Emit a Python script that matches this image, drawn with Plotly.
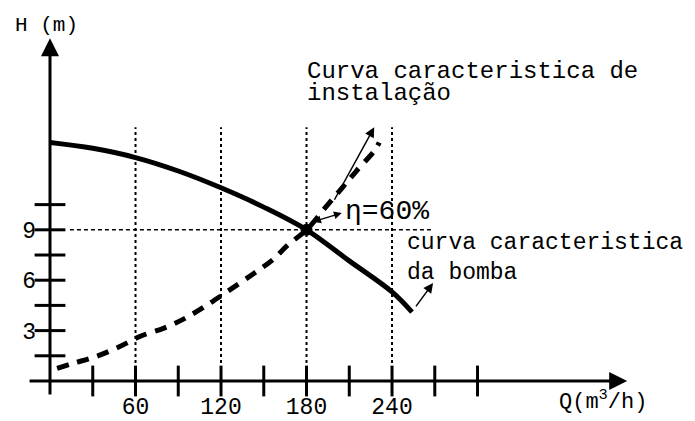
import plotly.graph_objects as go

# ---- data ----
pump_q = [0, 30, 60, 90, 120, 150, 180, 210, 240, 254]
pump_h = [14.2, 13.85, 13.3, 12.5, 11.5, 10.35, 9.0, 7.15, 5.3, 4.1]

sys_q = [5, 16, 32, 49, 63, 80, 94, 108, 124, 143, 156, 167, 180, 193, 205, 215, 228, 231]
sys_h = [0.75, 1.05, 1.45, 2.05, 2.65, 3.15, 3.7, 4.4, 5.3, 6.4, 7.2, 8.1, 9.0, 10.3, 11.5, 12.5, 13.75, 14.2]

op_q = [180]
op_h = [9]

x_tick_vals = [60, 120, 180, 240]
x_tick_text = ["60", "120", "180", "240"]
y_tick_vals = [3, 6, 9]
y_tick_text = ["3", "6", "9"]
x_marks = [30, 60, 90, 120, 150, 180, 210, 240, 270, 300]
y_marks = [1.5, 3, 4.5, 6, 7.5, 9, 10.5]
grid_q = [60, 120, 180, 240]
grid_top = 15.1

FONT = "Liberation Mono"
fig = go.Figure()

# vertical dashed guide lines
for q in grid_q:
    fig.add_trace(go.Scatter(x=[q, q], y=[0, grid_top], mode="lines",
                             line=dict(color="black", width=2, dash="3px,3px"),
                             hoverinfo="skip", showlegend=False))
# horizontal dashed line at H=9
fig.add_trace(go.Scatter(x=[14, 269], y=[9, 9], mode="lines",
                         line=dict(color="black", width=1.5, dash="4px,3px"),
                         hoverinfo="skip", showlegend=False))

# pump curve
fig.add_trace(go.Scatter(x=pump_q, y=pump_h, mode="lines", line_shape="spline",
                         line=dict(color="black", width=5), showlegend=False))
# system curve
fig.add_trace(go.Scatter(x=sys_q, y=sys_h, mode="lines", line_shape="spline",
                         line=dict(color="black", width=5, dash="12px,9px"),
                         showlegend=False))
# operating point
fig.add_trace(go.Scatter(x=op_q, y=op_h, mode="markers",
                         marker=dict(color="black", size=12), showlegend=False))

# axis tick marks (crossing the axes)
fig.add_trace(go.Scatter(x=x_marks, y=[0] * len(x_marks), mode="markers",
                         marker=dict(symbol="line-ns", size=22,
                                     line=dict(color="black", width=3)),
                         cliponaxis=False, hoverinfo="skip", showlegend=False))
fig.add_trace(go.Scatter(x=[0] * len(y_marks), y=y_marks, mode="markers",
                         marker=dict(symbol="line-ew", size=22,
                                     line=dict(color="black", width=3)),
                         cliponaxis=False, hoverinfo="skip", showlegend=False))

ann = []
# axes as arrows
ann.append(dict(x=405, y=0, ax=-15.4, ay=0, xref="x", yref="y", axref="x", ayref="y",
                showarrow=True, arrowhead=2, arrowsize=1.2, arrowwidth=3, arrowcolor="black", text=""))
ann.append(dict(x=0, y=20.4, ax=0, ay=-0.9, xref="x", yref="y", axref="x", ayref="y",
                showarrow=True, arrowhead=2, arrowsize=1.2, arrowwidth=3, arrowcolor="black", text=""))
# pointer arrows
ann.append(dict(x=227.5, y=15.1, ax=199, ay=10.7, xref="x", yref="y", axref="x", ayref="y",
                showarrow=True, arrowhead=2, arrowsize=1.3, arrowwidth=1.5, arrowcolor="black", text=""))
ann.append(dict(x=268.8, y=5.83, ax=256, ay=4.35, xref="x", yref="y", axref="x", ayref="y",
                showarrow=True, arrowhead=2, arrowsize=1.3, arrowwidth=1.5, arrowcolor="black", text=""))
ann.append(dict(x=204.7, y=10.0, ax=183.6, ay=9.45, xref="x", yref="y", axref="x", ayref="y",
                showarrow=True, arrowhead=2, arrowside="end+start", arrowsize=1.2, arrowwidth=1.3,
                arrowcolor="black", text=""))

def txt(x, y, s, size=24):
    return dict(x=x, y=y, xref="x", yref="y", text=s, showarrow=False,
                xanchor="left", yanchor="middle", font=dict(family=FONT, size=size, color="black"))

ann += [
    txt(179, 18.4, "Curva caracteristica de"),
    txt(179, 17.1, "instalação"),
    txt(205.6, 10.1, "η=60%", 28),
    txt(249, 8.2, "curva caracteristica", 23),
    txt(249, 6.4, "da bomba", 23),
    dict(x=-0.0574, y=0.934, xref="paper", yref="paper", text="H (m)", showarrow=False,
         xanchor="left", yanchor="middle", font=dict(family=FONT, size=21, color="black")),
    dict(x=0.786, y=-0.05, xref="paper", yref="paper", text="Q(m<sup>3</sup>/h)", showarrow=False,
         xanchor="left", yanchor="middle", font=dict(family=FONT, size=22, color="black")),
]

fig.update_layout(
    width=695, height=421,
    margin=dict(l=50, r=0, t=0, b=40, autoexpand=False),
    paper_bgcolor="white", plot_bgcolor="white",
    annotations=ann,
    xaxis=dict(range=[0, 452.6], showgrid=False, zeroline=False, showline=False,
               automargin=False,
               tickvals=x_tick_vals, ticktext=x_tick_text, ticks="",
               ticklabelstandoff=9,
               tickfont=dict(family=FONT, size=23, color="black")),
    yaxis=dict(range=[0, 22.68], showgrid=False, zeroline=False, showline=False,
               automargin=False,
               tickvals=y_tick_vals, ticktext=y_tick_text, ticks="",
               ticklabelstandoff=13,
               tickfont=dict(family=FONT, size=23, color="black")),
)

fig.write_html("out.html", config={"displayModeBar": False},
               post_script="document.body.style.margin='0';")
